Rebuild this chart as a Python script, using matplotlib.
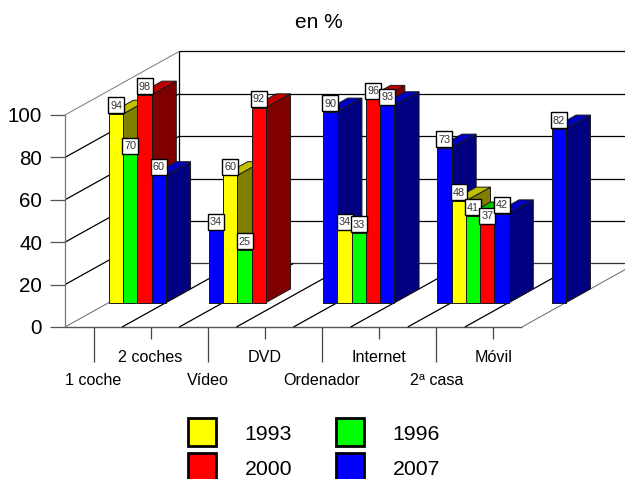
import numpy as np
import matplotlib
matplotlib.use("Agg")
import matplotlib.pyplot as plt
from matplotlib.patches import Rectangle

plt.rcParams['font.family'] = ['Liberation Sans', 'DejaVu Sans']

categories = ['1 coche', '2 coches', 'Vídeo', 'DVD', 'Ordenador', 'Internet', '2ª casa', 'Móvil']
years = ['1993', '1996', '2000', '2007']
nan = np.nan
v1993 = [89, nan, 60, nan, 34, nan, 48, nan]
v1996 = [70, nan, 25, nan, 33, nan, 41, nan]
v2000 = [98, nan, 92, nan, 96, nan, 37, nan]
v2007 = [60, 34, nan, 90, 93, 73, 42, 82]
# the first yellow bar is drawn lower than its printed label says
labels1993 = [94, None, 60, None, 34, None, 48, None]
labels1996 = [70, None, 25, None, 33, None, 41, None]
labels2000 = [98, None, 92, None, 96, None, 37, None]
labels2007 = [60, 34, None, 90, 93, 73, 42, 82]

front = ['#ffff00', '#00ff00', '#ff0000', '#0000ff']
side = ['#808000', '#008000', '#800000', '#000080']
top = ['#c0c000', '#00c000', '#c00000', '#0000c0']

W, H = 625, 479
DX, DY = 2.0, 30.0      # depth of the box in data units
D0, D1 = 0.384, 0.599   # front and back of the bars, as depth fractions
BW = 0.25

fig = plt.figure(figsize=(W / 100, H / 100), dpi=100)
ax = fig.add_axes([65 / W, (H - 327) / H, 457 / W, 212 / H])
ax.set_xlim(0, 8)
ax.set_ylim(0, 100)
for s in ax.spines.values():
    s.set_visible(False)
ax.patch.set_visible(False)


def pr(x, y, d=0.0):
    return x + d * DX, y + d * DY


def line(p, q, color='black', lw=0.9, z=1):
    ax.plot([p[0], q[0]], [p[1], q[1]], color=color, lw=lw, zorder=z, clip_on=False,
            solid_capstyle='butt')


def poly(pts, color, z):
    xs = [p[0] for p in pts]
    ys = [p[1] for p in pts]
    ax.fill(xs, ys, facecolor=color, edgecolor='#181818', lw=0.7, zorder=z, clip_on=False)


# walls and floor
for v in range(20, 101, 20):
    c = 'black' if v < 100 else '#777777'
    line(pr(0, v), pr(0, v, 1), c, 0.9 if v < 100 else 0.7)
    line(pr(0, v, 1), pr(8, v, 1), 'black', 0.9)
line(pr(0, 0, 1), pr(8, 0, 1), '#333333', 0.9)
line(pr(0, 0, 1), pr(0, 100, 1), 'black', 0.9)
line(pr(0, 0), pr(0, 100), '#777777', 0.9)
line(pr(0, 0), pr(8, 0), '#555555', 1.0)
for k in range(9):
    c = '#666666' if k in (0, 8) else 'black'
    line(pr(k, 0), pr(k, 0, 1), c, 0.7 if k in (0, 8) else 0.9)

# bars, painted left to right
series = [v1993, v1996, v2000, v2007]
texts = [labels1993, labels1996, labels2000, labels2007]
z = 5
boxes = []
for c in range(len(categories)):
    for i in range(4):
        val = series[i][c]
        if np.isnan(val):
            continue
        x0 = c + i * BW
        x1 = x0 + BW
        poly([pr(x1, 0, D0), pr(x1, 0, D1), pr(x1, val, D1), pr(x1, val, D0)], side[i], z)
        poly([pr(x0, val, D0), pr(x1, val, D0), pr(x1, val, D1), pr(x0, val, D1)], top[i], z + 1)
        poly([pr(x0, 0, D0), pr(x1, 0, D0), pr(x1, val, D0), pr(x0, val, D0)], front[i], z + 2)
        z += 3
        boxes.append((pr(x0 + BW / 2, val, D0), texts[i][c]))

for (bx, by), txt in boxes:
    by = by + 4.0
    ax.add_patch(Rectangle((bx - 0.14, by - 3.75), 0.28, 7.5, facecolor='white', edgecolor='black',
                           lw=1.0, zorder=z, clip_on=False))
    ax.text(bx, by - 0.2, str(txt), fontsize=7.8, color='#333333', ha='center', va='center',
            zorder=z + 1, clip_on=False)
    z += 2

# ticks
ax.set_yticks(range(0, 101, 20))
ax.tick_params(axis='y', length=10.5, width=0.9, color='#555555', labelsize=14.8, pad=6)
ax.set_xticks(np.arange(0.5, 8, 2))
ax.set_xticks(np.arange(1.5, 8, 2), minor=True)
ax.set_xticklabels(categories[0::2])
ax.set_xticklabels(categories[1::2], minor=True)
ax.tick_params(axis='x', which='major', length=25, width=0.9, color='#444444', labelsize=11.6, pad=8)
ax.tick_params(axis='x', which='minor', length=8.6, width=0.9, color='#444444', labelsize=11.6, pad=8)

fig.text(319 / W, 1 - 22 / H, 'en %', fontsize=15, ha='center', va='center')

# legend
leg_x = [188, 336]
leg_y = [418, 453]
for i, y in enumerate(years):
    lx = leg_x[i % 2]
    ly = leg_y[i // 2]
    fig.add_artist(Rectangle((lx / W, 1 - (ly + 28) / H), 28 / W, 28 / H, transform=fig.transFigure,
                             facecolor=front[i], edgecolor='black', lw=2.0))
    fig.text((lx + 56.5) / W, 1 - (ly + 16.5) / H, y, fontsize=15.3, ha='left', va='center')

fig.savefig('out.png', dpi=100)
